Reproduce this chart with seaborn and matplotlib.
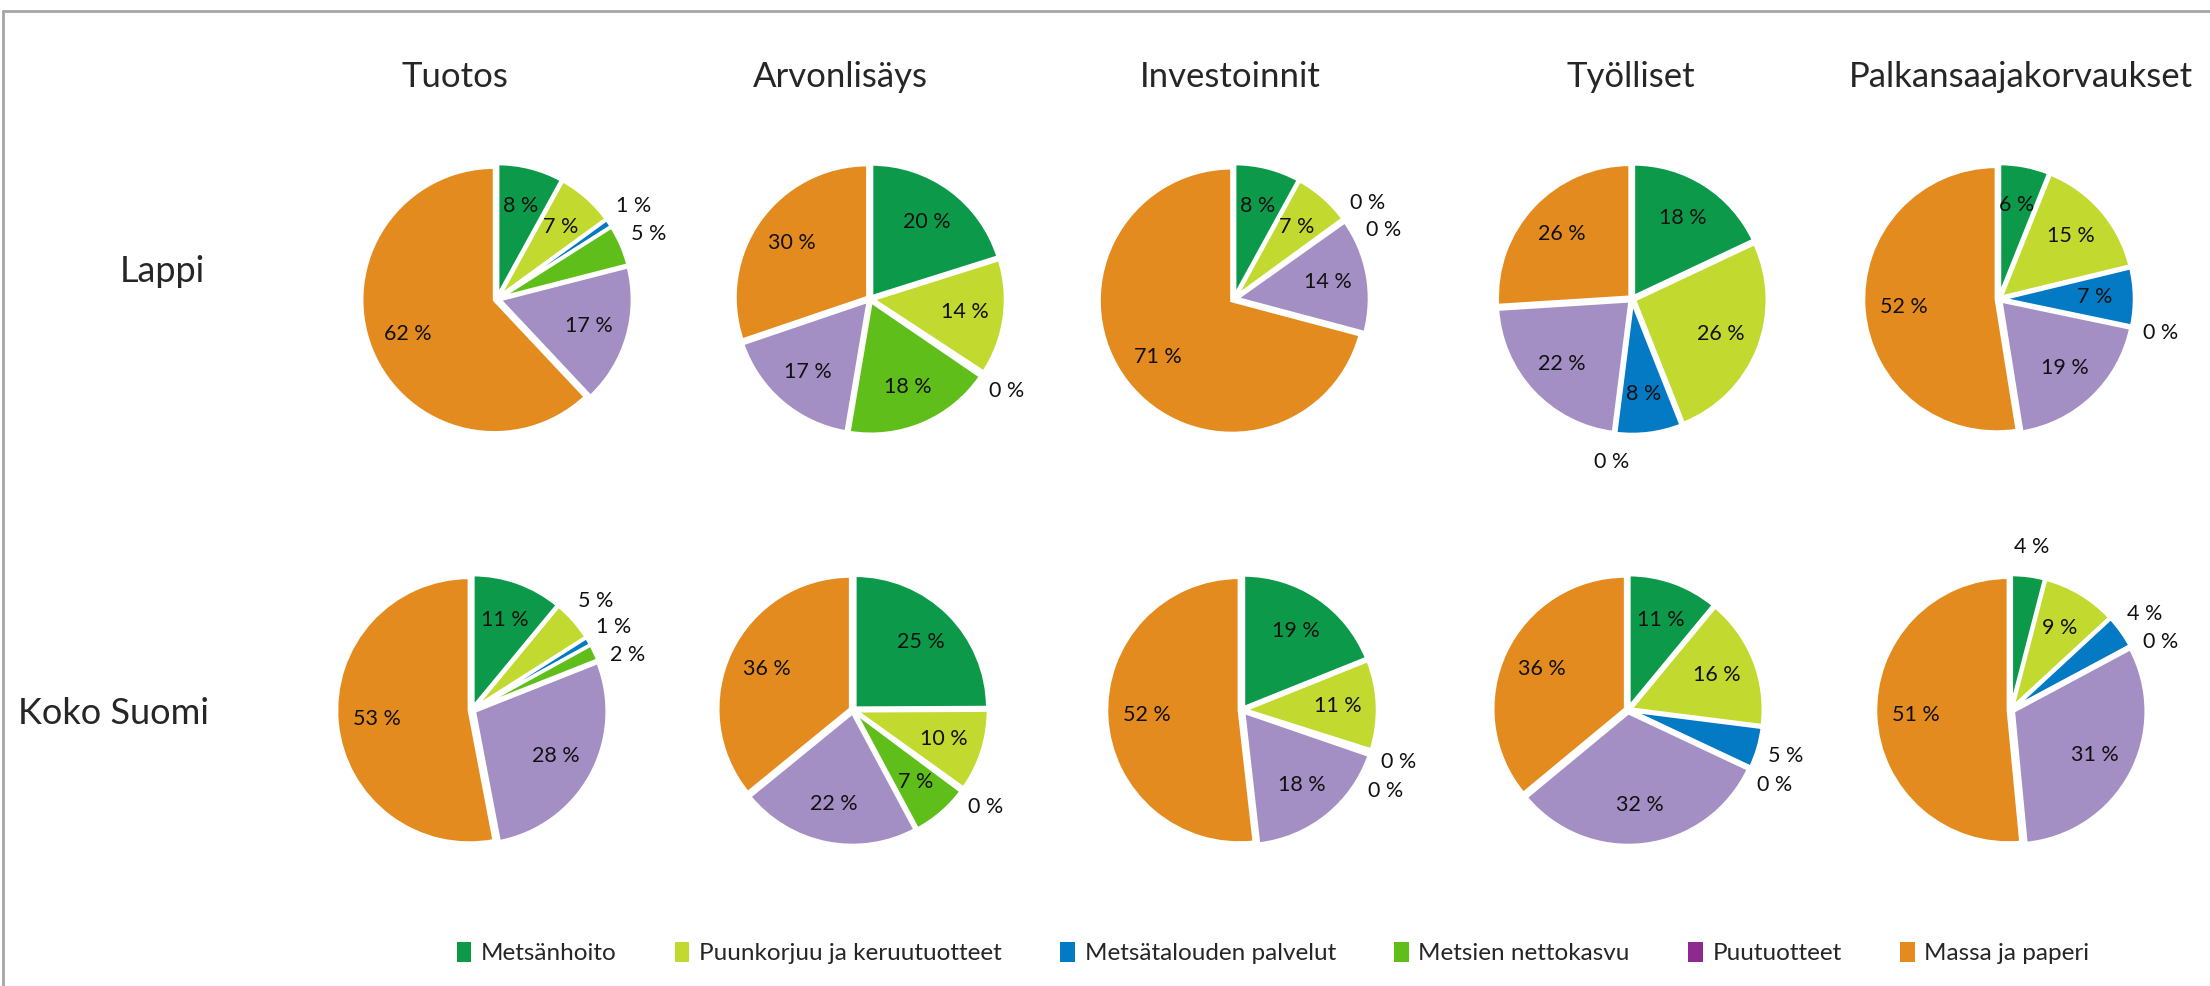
import matplotlib.pyplot as plt
import seaborn as sns
from matplotlib.patches import Patch
import numpy as np

sns.set_theme(style="white")
plt.rcParams['font.family'] = ['Lato', 'DejaVu Sans']

categories = ["Metsänhoito", "Puunkorjuu ja keruutuotteet", "Metsätalouden palvelut",
              "Metsien nettokasvu", "Puutuotteet", "Massa ja paperi"]
columns = ["Tuotos", "Arvonlisäys", "Investoinnit", "Työlliset", "Palkansaajakorvaukset"]
rows = ["Lappi", "Koko Suomi"]

# shares in %, same order as categories
lappi_tuotos = [8, 7, 1, 5, 17, 62]
lappi_arvonlisays = [20, 14, 0.3, 18, 17, 30]
lappi_investoinnit = [8, 7, 0.2, 0, 14, 71]
lappi_tyolliset = [18, 26, 8, 0, 22, 26]
lappi_palkat = [6, 15, 7, 0, 19, 52]
suomi_tuotos = [11, 5, 1, 2, 28, 53]
suomi_arvonlisays = [25, 10, 0.3, 7, 22, 36]
suomi_investoinnit = [19, 11, 0.4, 0, 18, 52]
suomi_tyolliset = [11, 16, 5, 0, 32, 36]
suomi_palkat = [4, 9, 4, 0, 31, 51]

slice_colors = sns.color_palette(["#0c9a4a", "#c2d92f", "#047ac4", "#60be1b", "#a38fc3", "#e48b1f"])
legend_colors = ["#0c9a4a", "#c2d92f", "#047ac4", "#60be1b", "#8e2a8e", "#e48b1f"]

data = [[lappi_tuotos, lappi_arvonlisays, lappi_investoinnit, lappi_tyolliset, lappi_palkat],
        [suomi_tuotos, suomi_arvonlisays, suomi_investoinnit, suomi_tyolliset, suomi_palkat]]

W, H = 2210, 986
fig = plt.figure(figsize=(W / 100, H / 100), dpi=100)

# pie centres in pixels
pie_x = [[497, 870, 1234, 1632, 1999],
         [472, 853, 1242, 1628, 2011]]
pie_y = [299, 710]
box = 340

for r in range(2):
    for c in range(5):
        cx, cy = pie_x[r][c], pie_y[r]
        ax = fig.add_axes([(cx - box / 2) / W, 1 - (cy + box / 2) / H, box / W, box / H])
        vals = data[r][c]
        wedges, _ = ax.pie(vals, colors=slice_colors, startangle=90, counterclock=False,
                           explode=[0.02] * 6, normalize=True,
                           wedgeprops=dict(edgecolor="white", linewidth=2.5))
        ax.set_xlim(-1.28, 1.28)
        ax.set_ylim(-1.28, 1.28)
        ax.set_aspect("equal")
        ax.axis("off")
        prev = None
        for w, v in zip(wedges, vals):
            ang = (w.theta1 + w.theta2) / 2
            if v >= 6:
                rad = 0.72
            else:
                rad = 1.24
                if prev is not None and prev - ang < 11:
                    ang = prev - 11
                prev = ang
            x = rad * np.cos(np.radians(ang))
            y = rad * np.sin(np.radians(ang))
            ax.text(x, y, f"{v:.0f} %", ha="center", va="center", fontsize=15.5, color="#111111")

title_x = [455, 840, 1230, 1631, 2021]
for c in range(5):
    fig.text(title_x[c] / W, 1 - 77 / H, columns[c], ha="center", va="center", fontsize=25)
fig.text(162 / W, 1 - 272 / H, rows[0], ha="center", va="center", fontsize=26)
fig.text(113 / W, 1 - 713 / H, rows[1], ha="center", va="center", fontsize=26)

handles = [Patch(facecolor=col, edgecolor="none", label=lab) for col, lab in zip(legend_colors, categories)]
fig.legend(handles=handles, loc="center", bbox_to_anchor=(1273 / W, 1 - 953 / H), ncol=6,
           frameon=False, fontsize=17.5, handlelength=0.6, handleheight=0.9,
           columnspacing=2.4, handletextpad=0.4)

# thin frame on top and left edges
fig.add_artist(plt.Line2D([3 / W, 1], [1 - 11 / H, 1 - 11 / H], color="#a6a6a6", lw=2))
fig.add_artist(plt.Line2D([3 / W, 3 / W], [0, 1 - 11 / H], color="#a6a6a6", lw=2))

fig.savefig("out.png", dpi=100, facecolor="white")
